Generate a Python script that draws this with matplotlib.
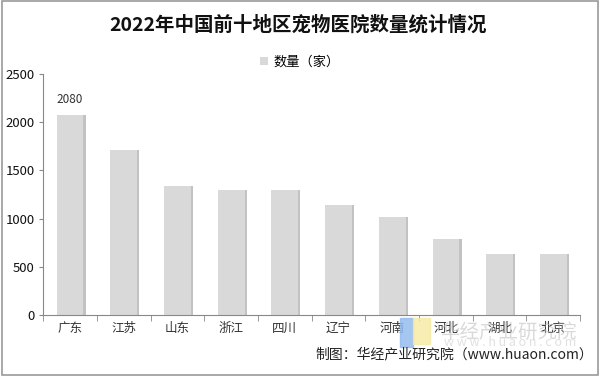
import matplotlib
matplotlib.use("Agg")
import matplotlib.pyplot as plt
from matplotlib.patches import Rectangle

plt.rcParams['font.family'] = ['Noto Sans CJK SC', 'DejaVu Sans']

categories = ['广东', '江苏', '山东', '浙江', '四川', '辽宁', '河南', '河北', '湖北', '北京']
values = [2080, 1715, 1335, 1300, 1295, 1140, 1015, 790, 635, 630]
series_name = '数量（家）'
title = '2022年中国前十地区宠物医院数量统计情况'
yticks = [0, 500, 1000, 1500, 2000, 2500]

fig = plt.figure(figsize=(6, 3.76), dpi=100)
fig.patch.set_facecolor('white')
ax = fig.add_axes([0.072, 0.162, 0.895, 0.641])
ax.set_facecolor('white')

x = list(range(len(categories)))
# shadow
ax.bar([i + 0.04 for i in x], values, width=0.5, color='#9a9a9a', alpha=0.6, zorder=1)
bars = ax.bar(x, values, width=0.5, color='#d9d9d9', label=series_name, zorder=2)

ax.set_xlim(-0.5, len(categories) - 0.5)
ax.set_ylim(0, 2500)
ax.set_yticks(yticks)
ax.set_yticklabels([str(v) for v in yticks], fontsize=9.5, color='#111111')
ax.set_xticks(x)
ax.set_xticklabels(categories, fontsize=9, color='#333333')
ax.set_xticks([i + 0.5 for i in range(-1, len(categories))], minor=True)
ax.tick_params(axis='x', which='major', length=0, pad=5)
ax.tick_params(axis='x', which='minor', length=4, color='#888888')
ax.tick_params(axis='y', length=3, color='#888888', pad=3)

for s in ['top', 'right']:
    ax.spines[s].set_visible(False)
ax.spines['left'].set_color('#888888')
ax.spines['bottom'].set_color('#888888')

ax.annotate(str(values[0]), (x[0], values[0]), xytext=(0, 6), textcoords='offset points',
            ha='center', va='bottom', fontsize=8.5, color='#333333')

leg = fig.legend(loc='center', bbox_to_anchor=(0.5, 0.835), frameon=False,
                 fontsize=9.5, handlelength=0.6, handleheight=0.6, handletextpad=0.4)

fig.text(0.497, 0.933, title, ha='center', va='center', fontsize=14, fontweight='bold', color='#111111')

# watermark
fig.text(0.848, 0.117, '华经产业研究院', ha='center', va='center', fontsize=14, color='#bbbbbb', alpha=0.55)
fig.text(0.85, 0.088, 'w w w . h u a o n . c o m', ha='center', va='center', fontsize=9, color='#cccccc', alpha=0.6)
fig.patches.append(Rectangle((0.667, 0.078), 0.022, 0.077, transform=fig.transFigure, color='#8fb8ee', alpha=0.8))
fig.patches.append(Rectangle((0.689, 0.085), 0.027, 0.07, transform=fig.transFigure, color='#f7eaa0', alpha=0.8))

fig.text(0.988, 0.058, '制图：华经产业研究院（www.huaon.com）', ha='right', va='center', fontsize=10, color='#222222')

fig.patches.append(Rectangle((0.003, 0.003), 0.994, 0.994, transform=fig.transFigure,
                             fill=False, edgecolor='#999999', linewidth=1.2))

fig.savefig('out.png', dpi=100)
